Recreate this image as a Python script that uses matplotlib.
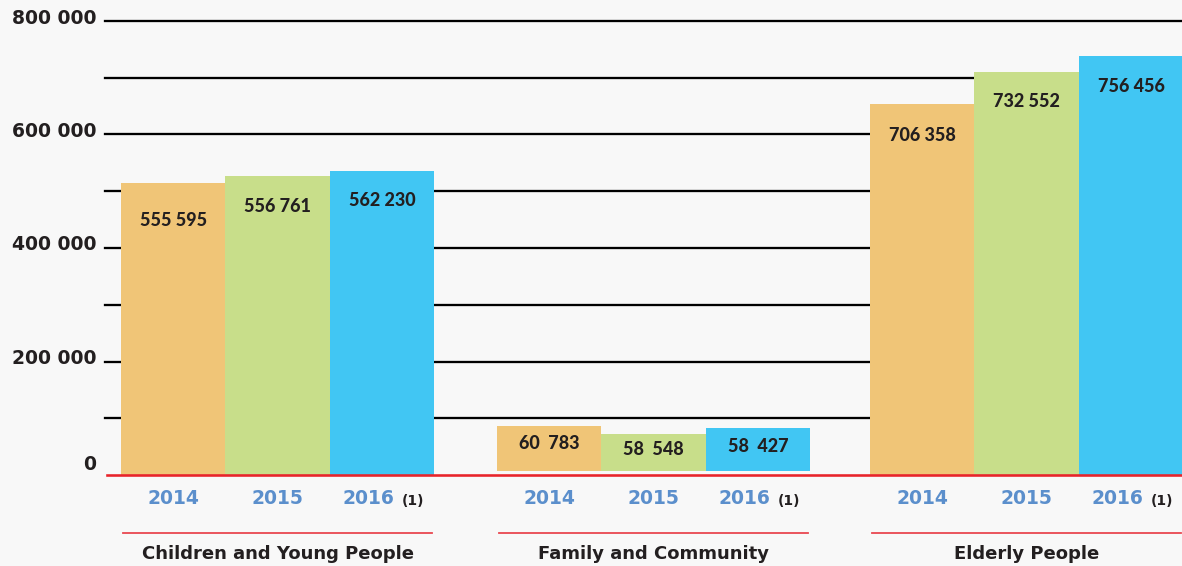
import numpy as np
import matplotlib
matplotlib.use('Agg')
import matplotlib.pyplot as plt

### Data (bar tops, labels as printed)

groups = ['Children and Young People', 'Family and Community', 'Elderly People']
years = ['2014', '2015', '2016']
bar_tops = {
    'Children and Young People': [514500, 527000, 535700],
    'Family and Community': [86300, 72200, 82800],
    'Elderly People': [653700, 710000, 738000],
}
value_labels = {
    'Children and Young People': ['555 595', '556 761', '562 230'],
    'Family and Community': ['60  783', '58  548', '58  427'],
    'Elderly People': ['706 358', '732 552', '756 456'],
}
ytick_vals = [0, 200000, 400000, 600000, 800000]
ytick_labels = ['0', '200 000', '400 000', '600 000', '800 000']

colors = ['#f0c577', '#c8de8a', '#41c6f3']
bg = '#f8f8f8'
dark = '#231f20'
pt = 0.72  # pixels -> points at dpi 100

fig = plt.figure(figsize=(11.82, 5.66), dpi=100, facecolor=bg)
ax = fig.add_axes([105 / 1182, 91 / 566, 1077 / 1182, 454 / 566])
ax.set_facecolor(bg)
ax.set_xlim(0, 1077 / 104.5)
ax.set_ylim(0, 800000)
for s in ax.spines.values():
    s.set_visible(False)
ax.set_xticks([])
ax.set_yticks([])

# grid lines every 100 000
for y in range(100000, 800001, 100000):
    ax.axhline(y, color='black', lw=2.3 * pt, zorder=1, clip_on=False)

group_left = [0.153, 3.75, 7.32]
# family bars float slightly above the baseline
bottoms = {'Children and Young People': 0, 'Family and Community': 7000,
           'Elderly People': 0}
label_drop = {'Children and Young People': [37, 31, 30],
              'Family and Community': [17, 15, 18],
              'Elderly People': [31, 29, 30]}

for g, left in zip(groups, group_left):
    xs = left + 0.5 + np.arange(3)
    b = bottoms[g]
    tops = np.array(bar_tops[g])
    ax.bar(xs, tops - b, bottom=b, width=1.0, color=colors, zorder=2)
    for x, top, lab, d in zip(xs, tops, value_labels[g], label_drop[g]):
        ax.annotate(lab, (x, top), xytext=(0, -d * pt), textcoords='offset points',
                    ha='center', va='center', fontsize=13, fontweight='black',
                    family='Lato', color=dark, zorder=4)
    # year labels
    for i, (x, yr) in enumerate(zip(xs, years)):
        if i < 2:
            ax.annotate(yr, (x, 0), xytext=(0, -24 * pt), textcoords='offset points',
                        ha='center', va='center', fontsize=13.5, fontweight='bold',
                        color='#5b8fcc', annotation_clip=False)
        else:
            ax.annotate(yr, (x, 0), xytext=(12.5 * pt, -24 * pt),
                        textcoords='offset points', ha='right', va='center',
                        fontsize=13.5, fontweight='bold', color='#5b8fcc',
                        annotation_clip=False)
            ax.annotate('(1)', (x, 0), xytext=(19.5 * pt, -26 * pt),
                        textcoords='offset points', ha='left', va='center',
                        fontsize=10, fontweight='bold', color=dark,
                        annotation_clip=False)
    # thin red underline and group name
    y_line = -58 / 454 * 800000
    ax.plot([left + 0.02, left + 2.98], [y_line, y_line], color='#e9474f',
            lw=1.8 * pt, clip_on=False, zorder=3)
    ax.annotate(g, (left + 1.5, 0), xytext=(0, -79 * pt), textcoords='offset points',
                ha='center', va='center', fontsize=13, fontweight='bold',
                color=dark, annotation_clip=False)

# red baseline
ax.plot([0.02, ax.get_xlim()[1]], [0, 0], color='#e8242b', lw=2.6 * pt,
        clip_on=False, zorder=5)

# y labels
for v, lab in zip(ytick_vals, ytick_labels):
    dy = 11 if v == 0 else 3
    ax.annotate(lab, (0, v), xytext=(-9 * pt, dy * pt), textcoords='offset points',
                ha='right', va='center', fontsize=13.5, fontweight='bold',
                color=dark, annotation_clip=False)

fig.savefig('out.png', dpi=100, facecolor=bg)
